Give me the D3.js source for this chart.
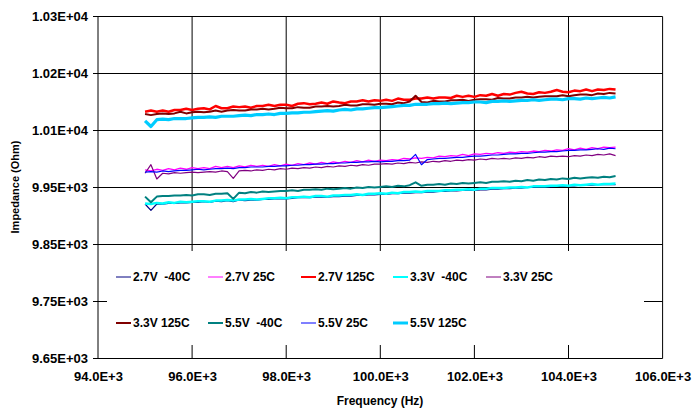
<!DOCTYPE html>
<html><head><meta charset="utf-8">
<script src="https://cdn.jsdelivr.net/npm/d3@7"></script>
<style>
html,body{margin:0;padding:0;background:#fff;}
svg text{font-family:Arial,"Liberation Sans",sans-serif;font-weight:bold;fill:#000;}
</style></head>
<body><svg id="chart" width="692" height="411"></svg>
<script>
// ---- data ----
const freq = [95000,95125,95250,95375,95500,95625,95750,95875,96000,96125,
96250,96375,96500,96625,96750,96875,97000,97125,97250,97375,
97500,97625,97750,97875,98000,98125,98250,98375,98500,98625,
98750,98875,99000,99125,99250,99375,99500,99625,99750,99875,
100000,100125,100250,100375,100500,100625,100750,100875,101000,101125,
101250,101375,101500,101625,101750,101875,102000,102125,102250,102375,
102500,102625,102750,102875,103000,103125,103250,103375,103500,103625,
103750,103875,104000,104125,104250,104375,104500,104625,104750,104875,
105000];

const seriesNames = ["2.7V  -40C","2.7V 25C","2.7V 125C","3.3V  -40C","3.3V 25C","3.3V 125C","5.5V  -40C","5.5V 25C","5.5V 125C"];

const v27m40 = [9921,9910,9921,9921,9922,9922,9923,9923,9924,9924,
9925,9924,9926,9925,9927,9925,9928,9927,9928,9928,
9929,9929,9930,9930,9930,9931,9932,9932,9932,9933,
9933,9933,9934,9934,9935,9935,9936,9936,9937,9937,
9938,9938,9939,9939,9940,9940,9941,9941,9942,9942,
9943,9943,9944,9944,9945,9945,9945,9946,9946,9947,
9947,9948,9948,9949,9949,9950,9950,9951,9951,9951,
9952,9952,9953,9953,9954,9954,9954,9955,9955,9955,
9955];
const v27p25 = [9981,9979,9982,9980,9983,9981,9984,9982,9985,9983,
9985,9983,9987,9985,9987,9985,9988,9986,9989,9987,
9989,9987,9990,9988,9991,9989,9992,9990,9993,9991,
9994,9992,9995,9993,9996,9994,9997,9995,9998,9996,
9998,9997,9999,9998,10001,10000,10002,10001,10003,10002,
10005,10004,10006,10005,10008,10006,10009,10008,10010,10009,
10011,10010,10012,10011,10013,10012,10014,10013,10015,10014,
10016,10015,10018,10016,10019,10017,10020,10018,10021,10020,
10021];
const v27p125 = [10083,10085,10083,10085,10083,10086,10086,10088,10086,10088,
10089,10087,10093,10089,10089,10092,10091,10092,10090,10093,
10093,10095,10093,10095,10095,10093,10097,10098,10096,10097,
10099,10097,10101,10099,10098,10101,10101,10103,10101,10103,
10102,10104,10102,10106,10104,10104,10106,10106,10108,10106,
10108,10108,10107,10111,10109,10111,10109,10112,10111,10114,
10111,10114,10113,10116,10118,10115,10114,10117,10116,10118,
10121,10118,10117,10120,10119,10122,10119,10122,10121,10123,
10122];
const v33m40 = [9922,9921,9923,9922,9924,9923,9925,9924,9925,9926,
9926,9925,9927,9927,9928,9927,9929,9929,9930,9929,
9930,9931,9931,9932,9931,9933,9933,9934,9933,9935,
9935,9934,9936,9936,9937,9937,9938,9937,9939,9939,
9940,9939,9941,9940,9942,9942,9943,9942,9944,9944,
9944,9945,9945,9946,9946,9947,9946,9948,9948,9949,
9949,9949,9950,9950,9951,9950,9952,9952,9952,9953,
9953,9954,9953,9955,9954,9955,9956,9955,9956,9956,
9957];
const v33p25 = [9975,9990,9965,9975,9974,9976,9975,9976,9977,9976,
9977,9978,9977,9979,9978,9966,9979,9980,9979,9981,
9980,9982,9981,9983,9982,9984,9983,9985,9984,9986,
9985,9987,9986,9988,9987,9989,9988,9990,9989,9991,
9991,9992,9991,9993,9992,9994,9993,9995,9994,9996,
9995,9997,9996,9998,9997,9999,9998,10000,9999,10001,
10000,10001,10000,10002,10001,10003,10002,10004,10003,10005,
10004,10005,10004,10006,10005,10007,10006,10008,10007,10009,
10006];
const v33p125 = [10079,10077,10079,10080,10079,10080,10083,10080,10082,10083,
10082,10083,10085,10083,10085,10086,10085,10085,10087,10087,
10088,10087,10088,10090,10089,10089,10091,10090,10090,10092,
10092,10093,10092,10093,10095,10094,10094,10096,10096,10095,
10097,10097,10096,10099,10098,10101,10111,10100,10099,10102,
10101,10101,10103,10103,10104,10102,10104,10105,10105,10104,
10107,10106,10106,10108,10108,10109,10108,10109,10110,10110,
10110,10112,10110,10112,10113,10113,10112,10115,10114,10116,
10115];
const v55m40 = [9934,9924,9934,9935,9935,9936,9936,9937,9936,9938,
9938,9937,9939,9939,9940,9930,9941,9940,9942,9941,
9943,9942,9943,9944,9944,9945,9944,9946,9946,9947,
9946,9948,9947,9948,9949,9948,9950,9949,9951,9950,
9951,9952,9951,9953,9952,9954,9959,9953,9955,9955,
9956,9955,9957,9956,9958,9957,9958,9959,9958,9960,
9960,9961,9960,9962,9961,9963,9962,9964,9963,9965,
9964,9966,9965,9967,9966,9967,9968,9967,9969,9968,
9970];
const v55p25 = [9977,9978,9977,9979,9978,9979,9980,9980,9981,9982,
9981,9982,9983,9983,9984,9983,9985,9985,9986,9986,
9986,9987,9987,9988,9988,9989,9989,9990,9990,9991,
9991,9992,9992,9993,9993,9994,9994,9995,9995,9996,
9995,9996,9996,9997,9997,9998,10008,9990,9999,10000,
10001,10001,10002,10003,10003,10004,10005,10005,10006,10007,
10007,10008,10009,10009,10010,10010,10011,10012,10012,10013,
10013,10014,10015,10015,10016,10016,10017,10018,10017,10019,
10018];
const v55p125 = [10067,10057,10069,10070,10069,10071,10071,10071,10072,10073,
10073,10074,10073,10075,10075,10075,10076,10077,10076,10078,
10078,10079,10078,10080,10080,10081,10081,10082,10082,10083,
10084,10085,10084,10086,10087,10086,10088,10088,10089,10090,
10090,10091,10092,10093,10094,10094,10096,10096,10096,10097,
10097,10098,10097,10098,10099,10099,10100,10100,10099,10101,
10101,10102,10101,10102,10103,10103,10104,10103,10104,10105,
10105,10104,10106,10106,10105,10107,10106,10107,10108,10107,
10109];

const seriesValues = [v27m40,v27p25,v27p125,v33m40,v33p25,v33p125,v55m40,v55p25,v55p125];

const xTickValues = [94000,96000,98000,100000,102000,104000,106000];
const xTickLabels = ["94.0E+3","96.0E+3","98.0E+3","100.0E+3","102.0E+3","104.0E+3","106.0E+3"];
const yTickValues = [9650,9750,9850,9950,10050,10150,10250];
const yTickLabels = ["9.65E+03","9.75E+03","9.85E+03","9.95E+03","1.01E+04","1.02E+04","1.03E+04"];

// ---- styles ----
const colors = ["#000080","#FF00FF","#FF0000","#00FFFF","#800080","#800000","#008080","#0000FF","#00CCFF"];
const widths = [1.2,1.3,2.5,2.5,1.2,2,2,1.2,3.2];
const legendWidths = [1,1,2,2,1,2,2,1,3];

const svg = d3.select("#chart");
const L = 98, R = 662.6, T = 16.5, B = 358.5;
const x = d3.scaleLinear().domain([94000,106000]).range([L,R]);
const y = d3.scaleLinear().domain([9650,10250]).range([B,T]);

// gridlines
const g = svg.append("g");
g.selectAll("line.h").data(yTickValues).join("line")
  .attr("x1",L-5).attr("x2",R).attr("y1",d=>y(d)).attr("y2",d=>y(d))
  .attr("stroke","#000").attr("stroke-width",1);
g.selectAll("line.v").data(xTickValues).join("line")
  .attr("x1",d=>x(d)).attr("x2",d=>x(d)).attr("y1",T).attr("y2",B)
  .attr("stroke","#000").attr("stroke-width",1);

// axes via d3
const yAxis = d3.axisLeft(y).tickValues(yTickValues).tickFormat((d,i)=>yTickLabels[i]).tickSize(0).tickPadding(10);
const ya = svg.append("g").attr("transform",`translate(${L},0)`).call(yAxis);
ya.select(".domain").remove();
ya.selectAll("text").style("font-size","13px");

const xAxis = d3.axisBottom(x).tickValues(xTickValues).tickFormat((d,i)=>xTickLabels[i]).tickSize(0).tickPadding(13);
const xa = svg.append("g").attr("transform",`translate(0,${B})`).call(xAxis);
xa.select(".domain").remove();
xa.selectAll("text").style("font-size","13px");

// lines
const line = d3.line().x((d,i)=>x(freq[i])).y(d=>y(d));
svg.append("g").selectAll("path").data(seriesValues).join("path")
  .attr("d",d=>line(d)).attr("fill","none")
  .attr("stroke",(d,i)=>colors[i]).attr("stroke-width",(d,i)=>widths[i])
  .attr("stroke-linejoin","round");

// legend
const lg = svg.append("g");
lg.append("rect").attr("x",107).attr("y",251).attr("width",537).attr("height",94).attr("fill","#fff");
const colX = [116,208,301,393,486];
const rowY = [277,323];
seriesNames.forEach((n,i)=>{
  const cx = colX[i%5], cy = rowY[Math.floor(i/5)];
  lg.append("line").attr("x1",cx).attr("x2",cx+15).attr("y1",cy).attr("y2",cy)
    .attr("stroke",colors[i]).attr("stroke-width",legendWidths[i]);
  lg.append("text").attr("x",cx+17).attr("y",cy).attr("dy","0.35em")
    .style("font-size","12px").style("white-space","pre").attr("xml:space","preserve").text(n);
});

// titles
svg.append("text").attr("transform","translate(19,187) rotate(-90)").attr("text-anchor","middle")
  .style("font-size","11px").text("Impedance (Ohm)");
svg.append("text").attr("x",380).attr("y",405).attr("text-anchor","middle")
  .style("font-size","12px").text("Frequency (Hz)");
</script></body></html>
